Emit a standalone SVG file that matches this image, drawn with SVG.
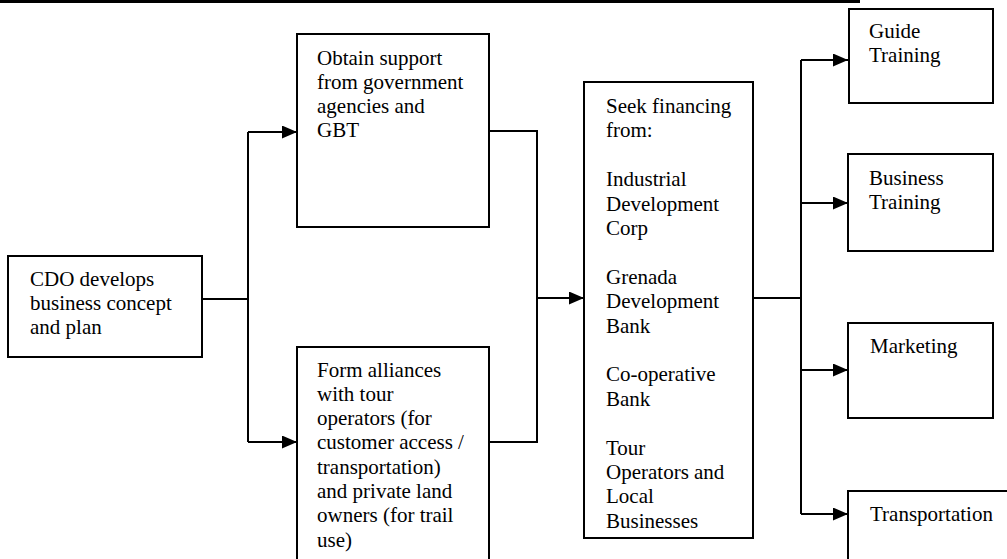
<svg xmlns="http://www.w3.org/2000/svg" width="1007" height="559" viewBox="0 0 1007 559">
  <style>
    .box { fill: #ffffff; stroke: #000000; stroke-width: 2; }
    .wire { fill: none; stroke: #000000; stroke-width: 2; }
    .label { font-family: "Liberation Serif", "Times New Roman", serif; font-size: 21px; fill: #000000; }
  </style>
  <defs>
    <marker id="arrow" viewBox="0 0 15 13" refX="15" refY="6.5" markerWidth="15" markerHeight="13" markerUnits="userSpaceOnUse" orient="auto">
      <path d="M0,0 L15,6.5 L0,13 Z" fill="#000000"/>
    </marker>
  </defs>

  <rect width="1007" height="559" fill="#ffffff"/>
  <!-- header rule -->
  <rect x="0" y="0" width="860" height="3" fill="#000000"/>

  <g id="connectors">
    <!-- concept to the two parallel activities -->
    <polyline class="wire" points="202,299 248,299"/>
    <polyline class="wire" points="248,132 248,442"/>
    <polyline class="wire" points="248,132 297,132" marker-end="url(#arrow)"/>
    <polyline class="wire" points="248,442 297,442" marker-end="url(#arrow)"/>
    <!-- activities merge into financing -->
    <polyline class="wire" points="489,131 537,131 537,442 489,442"/>
    <polyline class="wire" points="537,298 584,298" marker-end="url(#arrow)"/>
    <!-- financing fans out to the four programmes -->
    <polyline class="wire" points="753,298 801,298"/>
    <polyline class="wire" points="801,60 801,514"/>
    <polyline class="wire" points="801,60 848,60" marker-end="url(#arrow)"/>
    <polyline class="wire" points="801,203 848,203" marker-end="url(#arrow)"/>
    <polyline class="wire" points="801,370 848,370" marker-end="url(#arrow)"/>
    <polyline class="wire" points="801,514 848,514" marker-end="url(#arrow)"/>
  </g>

  <g id="cdo-plan">
    <rect class="box" x="8" y="256" width="194" height="101"/>
    <text class="label"><tspan x="30" y="286">CDO develops</tspan><tspan x="30" y="310">business concept</tspan><tspan x="30" y="334">and plan</tspan></text>
  </g>

  <g id="gov-support">
    <rect class="box" x="297" y="34" width="192" height="193"/>
    <text class="label"><tspan x="317" y="65">Obtain support</tspan><tspan x="317" y="89">from government</tspan><tspan x="317" y="113">agencies and</tspan><tspan x="317" y="137">GBT</tspan></text>
  </g>

  <g id="alliances">
    <rect class="box" x="297" y="347" width="192" height="230"/>
    <text class="label"><tspan x="317" y="377">Form alliances</tspan><tspan x="317" y="401">with tour</tspan><tspan x="317" y="425">operators (for</tspan><tspan x="317" y="449">customer access /</tspan><tspan x="317" y="474">transportation)</tspan><tspan x="317" y="498">and private land</tspan><tspan x="317" y="522">owners (for trail</tspan><tspan x="317" y="547">use)</tspan></text>
  </g>

  <g id="financing">
    <rect class="box" x="584" y="82" width="169" height="456"/>
    <text class="label"><tspan x="606" y="113">Seek financing</tspan><tspan x="606" y="137.4">from:</tspan><tspan x="606" y="186.2">Industrial</tspan><tspan x="606" y="210.6">Development</tspan><tspan x="606" y="235">Corp</tspan><tspan x="606" y="283.8">Grenada</tspan><tspan x="606" y="308.2">Development</tspan><tspan x="606" y="332.6">Bank</tspan><tspan x="606" y="381.4">Co-operative</tspan><tspan x="606" y="405.8">Bank</tspan><tspan x="606" y="454.6">Tour</tspan><tspan x="606" y="479">Operators and</tspan><tspan x="606" y="503.4">Local</tspan><tspan x="606" y="527.8">Businesses</tspan></text>
  </g>

  <g id="guide-training">
    <rect class="box" x="849" y="9" width="144" height="94"/>
    <text class="label"><tspan x="869" y="38">Guide</tspan><tspan x="869" y="62">Training</tspan></text>
  </g>

  <g id="business-training">
    <rect class="box" x="848" y="154" width="145" height="97"/>
    <text class="label"><tspan x="869" y="185">Business</tspan><tspan x="869" y="209">Training</tspan></text>
  </g>

  <g id="marketing">
    <rect class="box" x="848" y="323" width="145" height="95"/>
    <text class="label"><tspan x="870" y="353">Marketing</tspan></text>
  </g>

  <g id="transportation">
    <rect class="box" x="848" y="491" width="170" height="90"/>
    <text class="label"><tspan x="870" y="521">Transportation</tspan></text>
  </g>
</svg>
